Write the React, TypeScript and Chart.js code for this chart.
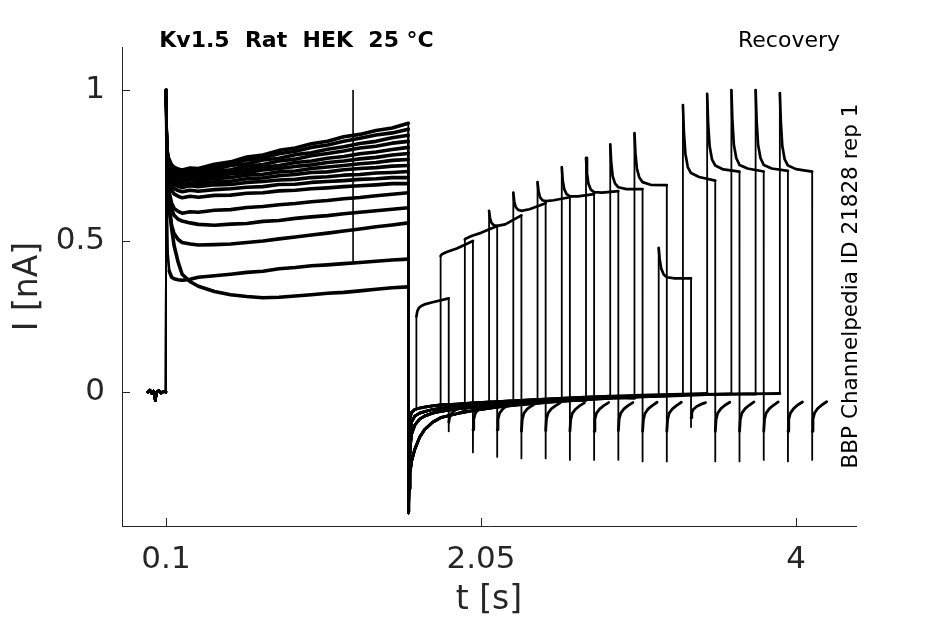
import React, { useEffect, useRef } from "react";
import { Chart, registerables } from "chart.js";

Chart.register(...registerables);

// ---------- axis ticks ----------
const X_TICKS = [0.1, 2.05, 4];
const X_TICK_LABELS = ["0.1", "2.05", "4"];
const Y_TICKS = [0, 0.5, 1];
const Y_TICK_LABELS = ["0", "0.5", "1"];
const X_MIN = -0.1724;
const X_MAX = 4.3714;
const Y_MIN = -0.4437;
const Y_MAX = 1.1424;

// ---------- pre-pulse holding (s, nA) ----------
const PRE_T = [-0.012, 0.0, 0.012, 0.022, 0.03, 0.034, 0.04, 0.055, 0.07, 0.085, 0.099];
const PRE_I = [0.0, 0.006, -0.004, 0.003, -0.01, -0.028, -0.002, 0.004, -0.003, 0.002, 0.0];

// ---------- first (conditioning) pulse ----------
const P1_T = [0.1, 0.104, 0.11, 0.12, 0.135, 0.15, 0.175, 0.2, 0.25, 0.3, 0.4, 0.5, 0.6, 0.7, 0.8, 0.9, 1.0, 1.1, 1.2, 1.3, 1.4, 1.5, 1.6];
const P1_I_00 = [1.0, 0.88, 0.8, 0.77, 0.752, 0.745, 0.738, 0.735, 0.742, 0.74, 0.754, 0.762, 0.778, 0.785, 0.8, 0.808, 0.822, 0.83, 0.845, 0.853, 0.866, 0.874, 0.89];
const P1_I_01 = [1.0, 0.875, 0.795, 0.765, 0.748, 0.74, 0.733, 0.73, 0.737, 0.735, 0.746, 0.757, 0.768, 0.776, 0.789, 0.797, 0.81, 0.818, 0.83, 0.84, 0.851, 0.858, 0.87];
const P1_I_02 = [0.99, 0.87, 0.79, 0.76, 0.742, 0.735, 0.728, 0.725, 0.732, 0.73, 0.738, 0.75, 0.756, 0.768, 0.774, 0.786, 0.792, 0.804, 0.812, 0.823, 0.83, 0.842, 0.85];
const P1_I_03 = [1.0, 0.87, 0.785, 0.752, 0.732, 0.725, 0.718, 0.715, 0.722, 0.72, 0.73, 0.736, 0.748, 0.753, 0.765, 0.771, 0.782, 0.79, 0.798, 0.808, 0.814, 0.824, 0.83];
const P1_I_04 = [0.99, 0.865, 0.78, 0.748, 0.728, 0.72, 0.713, 0.71, 0.716, 0.715, 0.722, 0.73, 0.737, 0.745, 0.75, 0.76, 0.765, 0.774, 0.78, 0.789, 0.795, 0.803, 0.81];
const P1_I_05 = [1.0, 0.86, 0.775, 0.743, 0.722, 0.715, 0.708, 0.705, 0.712, 0.71, 0.714, 0.722, 0.727, 0.735, 0.74, 0.747, 0.752, 0.76, 0.765, 0.772, 0.777, 0.785, 0.79];
const P1_I_06 = [0.98, 0.855, 0.77, 0.735, 0.715, 0.706, 0.7, 0.697, 0.703, 0.7, 0.707, 0.71, 0.718, 0.721, 0.729, 0.732, 0.74, 0.745, 0.75, 0.756, 0.76, 0.767, 0.77];
const P1_I_07 = [1.0, 0.85, 0.765, 0.728, 0.706, 0.697, 0.69, 0.686, 0.692, 0.69, 0.696, 0.698, 0.706, 0.709, 0.716, 0.72, 0.727, 0.729, 0.736, 0.74, 0.743, 0.748, 0.75];
const P1_I_08 = [0.99, 0.845, 0.76, 0.72, 0.698, 0.688, 0.681, 0.677, 0.683, 0.68, 0.686, 0.687, 0.694, 0.697, 0.702, 0.704, 0.71, 0.713, 0.718, 0.72, 0.725, 0.727, 0.73];
const P1_I_09 = [1.0, 0.84, 0.75, 0.71, 0.685, 0.674, 0.667, 0.663, 0.668, 0.665, 0.67, 0.673, 0.678, 0.68, 0.687, 0.688, 0.694, 0.697, 0.7, 0.704, 0.706, 0.71, 0.71];
const P1_I_10 = [1.0, 0.86, 0.74, 0.63, 0.54, 0.485, 0.43, 0.39, 0.365, 0.35, 0.333, 0.322, 0.316, 0.312, 0.314, 0.318, 0.322, 0.327, 0.33, 0.335, 0.34, 0.345, 0.348];
const P1_I_11 = [0.99, 0.83, 0.74, 0.695, 0.668, 0.656, 0.648, 0.643, 0.648, 0.645, 0.651, 0.652, 0.658, 0.66, 0.666, 0.668, 0.673, 0.676, 0.68, 0.683, 0.686, 0.69, 0.69];
const P1_I_12 = [1.0, 0.81, 0.71, 0.66, 0.625, 0.608, 0.598, 0.592, 0.597, 0.595, 0.602, 0.604, 0.611, 0.614, 0.62, 0.624, 0.63, 0.634, 0.64, 0.644, 0.65, 0.655, 0.66];
const P1_I_13 = [0.99, 0.8, 0.7, 0.645, 0.605, 0.585, 0.572, 0.566, 0.56, 0.555, 0.552, 0.556, 0.558, 0.565, 0.568, 0.575, 0.58, 0.584, 0.59, 0.595, 0.6, 0.605, 0.61];
const P1_I_14 = [1.0, 0.78, 0.67, 0.6, 0.55, 0.525, 0.505, 0.495, 0.49, 0.487, 0.488, 0.49, 0.495, 0.5, 0.507, 0.513, 0.52, 0.526, 0.533, 0.54, 0.547, 0.553, 0.56];
const P1_I_15 = [1.0, 0.66, 0.46, 0.4, 0.38, 0.375, 0.372, 0.37, 0.373, 0.38, 0.385, 0.39, 0.396, 0.4, 0.408, 0.412, 0.418, 0.421, 0.425, 0.429, 0.433, 0.437, 0.44];
const P1_I = [P1_I_00, P1_I_01, P1_I_02, P1_I_03, P1_I_04, P1_I_05, P1_I_06, P1_I_07, P1_I_08, P1_I_09, P1_I_10, P1_I_11, P1_I_12, P1_I_13, P1_I_14, P1_I_15];

// artefact spike in one trace
const SPIKE_T = [1.258, 1.258];
const SPIKE_I = [0.426, 1.0];

// ---------- recovery holding between pulses ----------
const HOLD_T = [1.6, 1.602, 1.605, 1.61, 1.62, 1.64, 1.67, 1.7, 1.75, 1.8, 1.9, 2.0, 2.15, 2.3, 2.5, 2.7, 2.9, 3.1, 3.3, 3.5, 3.7, 3.9];
const HOLD_FAST = [-0.4, -0.2, -0.12, -0.085, -0.068, -0.058, -0.053, -0.05, -0.046, -0.043, -0.04, -0.036, -0.032, -0.028, -0.022, -0.017, -0.013, -0.01, -0.007, -0.005, -0.003, -0.002];
const HOLD_MID = [-0.4, -0.3, -0.2, -0.14, -0.1, -0.08, -0.07, -0.065, -0.058, -0.054, -0.048, -0.044, -0.038, -0.033, -0.027, -0.021, -0.016, -0.012, -0.009, -0.007, -0.005, -0.004];
const HOLD_MID2 = [-0.4, -0.34, -0.26, -0.19, -0.14, -0.11, -0.09, -0.08, -0.07, -0.064, -0.056, -0.051, -0.044, -0.038, -0.03, -0.023, -0.018, -0.014, -0.01, -0.008, -0.006, -0.004];
const HOLD_SLOW = [-0.4, -0.37, -0.32, -0.27, -0.23, -0.19, -0.15, -0.125, -0.1, -0.085, -0.072, -0.062, -0.05, -0.042, -0.033, -0.025, -0.019, -0.015, -0.011, -0.008, -0.006, -0.005];
const HOLD_VARIANTS = [HOLD_FAST, HOLD_MID, HOLD_MID2, HOLD_SLOW];
const HOLD_ASSIGN = [0, 1, 3, 2, 3, 0, 1, 2, 0, 3, 1, 2, 0, 1, 3, 2];

// ---------- second (test) pulse ----------
const P2_START = [1.65, 1.8, 1.95, 2.1, 2.25, 2.4, 2.55, 2.7, 2.85, 3.0, 3.15, 3.3, 3.45, 3.6, 3.75, 3.9];
const P2_DT = [0, 0, 0.006, 0.015, 0.03, 0.05, 0.1, 0.2, 0.2, 0.2005, 0.205, 0.215, 0.235, 0.26, 0.29];
const P2_I_00 = [-0.057, 0.25, 0.268, 0.278, 0.285, 0.29, 0.297, 0.31, -0.13, -0.1, -0.085, -0.072, -0.062, -0.055, -0.05];
const P2_I_01 = [-0.054, 0.45, 0.455, 0.458, 0.462, 0.466, 0.475, 0.5, -0.2, -0.125, -0.09, -0.07, -0.057, -0.047, -0.038];
const P2_I_02 = [-0.062, 0.505, 0.508, 0.51, 0.514, 0.518, 0.527, 0.55, -0.215, -0.125, -0.09, -0.07, -0.056, -0.046, -0.037];
const P2_I_03 = [-0.047, 0.6, 0.575, 0.56, 0.552, 0.55, 0.555, 0.585, -0.22, -0.13, -0.092, -0.071, -0.057, -0.047, -0.037];
const P2_I_04 = [-0.043, 0.66, 0.63, 0.612, 0.603, 0.6, 0.605, 0.625, -0.22, -0.128, -0.09, -0.07, -0.056, -0.046, -0.036];
const P2_I_05 = [-0.025, 0.695, 0.665, 0.645, 0.635, 0.632, 0.635, 0.645, -0.225, -0.13, -0.092, -0.071, -0.057, -0.046, -0.036];
const P2_I_06 = [-0.028, 0.745, 0.7, 0.672, 0.655, 0.648, 0.648, 0.655, -0.225, -0.13, -0.09, -0.07, -0.056, -0.045, -0.035];
const P2_I_07 = [-0.028, 0.775, 0.725, 0.69, 0.67, 0.662, 0.66, 0.665, -0.225, -0.128, -0.09, -0.07, -0.056, -0.045, -0.035];
const P2_I_08 = [-0.014, 0.82, 0.76, 0.715, 0.69, 0.678, 0.672, 0.672, -0.23, -0.13, -0.092, -0.071, -0.056, -0.045, -0.034];
const P2_I_09 = [-0.021, 0.857, 0.79, 0.74, 0.71, 0.695, 0.686, 0.685, -0.23, -0.13, -0.092, -0.07, -0.056, -0.045, -0.034];
const P2_I_10 = [-0.011, 0.477, 0.44, 0.41, 0.39, 0.38, 0.376, 0.376, -0.116, -0.085, -0.068, -0.057, -0.048, -0.041, -0.035];
const P2_I_11 = [-0.012, 0.95, 0.86, 0.79, 0.745, 0.725, 0.712, 0.7, -0.23, -0.13, -0.092, -0.07, -0.055, -0.044, -0.034];
const P2_I_12 = [-0.005, 0.987, 0.89, 0.815, 0.77, 0.75, 0.737, 0.73, -0.23, -0.13, -0.092, -0.07, -0.055, -0.044, -0.033];
const P2_I_13 = [-0.006, 1.0, 0.9, 0.82, 0.775, 0.752, 0.74, 0.73, -0.225, -0.13, -0.091, -0.07, -0.055, -0.044, -0.033];
const P2_I_14 = [-0.007, 1.0, 0.9, 0.82, 0.775, 0.752, 0.74, 0.732, -0.23, -0.13, -0.091, -0.07, -0.055, -0.043, -0.033];
const P2_I_15 = [-0.005, 0.99, 0.895, 0.815, 0.77, 0.75, 0.738, 0.73, -0.225, -0.13, -0.09, -0.069, -0.054, -0.043, -0.032];
const P2_I = [P2_I_00, P2_I_01, P2_I_02, P2_I_03, P2_I_04, P2_I_05, P2_I_06, P2_I_07, P2_I_08, P2_I_09, P2_I_10, P2_I_11, P2_I_12, P2_I_13, P2_I_14, P2_I_15];

// ---------- texts ----------
const TITLE = "Kv1.5  Rat  HEK  25 °C";
const PROTOCOL = "Recovery";
const SIDE_NOTE = "BBP Channelpedia ID 21828 rep 1";
const X_TITLE = "t [s]";
const Y_TITLE = "I [nA]";

const FONT = "'DejaVu Sans', 'Noto Sans', sans-serif";
const AXIS_COLOR = "#262626";

type Pt = { x: number; y: number };

function buildTrace(k: number): Pt[] {
  const pts: Pt[] = [];
  PRE_T.forEach((t, i) => pts.push({ x: t, y: PRE_I[i] }));
  P1_T.forEach((t, i) => pts.push({ x: t, y: P1_I[k][i] }));
  const hold = HOLD_VARIANTS[HOLD_ASSIGN[k]];
  HOLD_T.forEach((t, i) => {
    if (t < P2_START[k]) pts.push({ x: t, y: hold[i] });
  });
  P2_DT.forEach((dt, i) => pts.push({ x: P2_START[k] + dt, y: P2_I[k][i] }));
  return pts;
}

function segWidth(pts: Pt[]) {
  return (c: any) => {
    const a = pts[c.p0DataIndex];
    const b = pts[c.p1DataIndex];
    if (!a || !b) return 2;
    if (Math.abs(b.x - a.x) < 0.0015) return 1.8;
    if (a.x >= 0.12 && b.x <= 1.6) return 3.6;
    if (a.x >= 1.6 && b.y < 0.1 && a.y < 0.1) return 2.8;
    return 2.7;
  };
}

const decorPlugin = {
  id: "decor",
  afterDraw(chart: any) {
    const { ctx, chartArea } = chart;
    const ax = chart.scales.x;
    const ay = chart.scales.y;
    ctx.save();
    ctx.strokeStyle = AXIS_COLOR;
    ctx.lineWidth = 1;
    ctx.beginPath();
    X_TICKS.forEach((v) => {
      const px = Math.round(ax.getPixelForValue(v)) + 0.5;
      ctx.moveTo(px, chartArea.bottom);
      ctx.lineTo(px, chartArea.bottom - 8);
    });
    Y_TICKS.forEach((v) => {
      const py = Math.round(ay.getPixelForValue(v)) + 0.5;
      ctx.moveTo(chartArea.left, py);
      ctx.lineTo(chartArea.left + 8, py);
    });
    ctx.stroke();

    ctx.fillStyle = "#000";
    ctx.textBaseline = "alphabetic";
    ctx.font = `bold 22px ${FONT}`;
    ctx.textAlign = "center";
    ctx.fillText(TITLE, 296.5, 47);
    ctx.font = `22px ${FONT}`;
    ctx.textAlign = "right";
    ctx.fillText(PROTOCOL, 840, 47);
    ctx.save();
    ctx.translate(857, 286);
    ctx.rotate(-Math.PI / 2);
    ctx.font = `21.5px ${FONT}`;
    ctx.textAlign = "center";
    ctx.fillText(SIDE_NOTE, 0, 0);
    ctx.restore();
    ctx.restore();
  },
};

export default function App() {
  const ref = useRef<HTMLCanvasElement | null>(null);

  useEffect(() => {
    if (!ref.current) return;
    const datasets: any[] = [];
    for (let k = 0; k < P2_START.length; k++) {
      const pts = buildTrace(k);
      datasets.push({
        data: pts,
        borderColor: "#000",
        borderWidth: 2,
        pointRadius: 0,
        tension: 0,
        fill: false,
        borderJoinStyle: "round",
        borderCapStyle: "round",
        segment: { borderWidth: segWidth(pts) },
      });
    }
    datasets.push({
      data: SPIKE_T.map((t, i) => ({ x: t, y: SPIKE_I[i] })),
      borderColor: "#000",
      borderWidth: 1.6,
      pointRadius: 0,
      fill: false,
    });

    const chart = new Chart(ref.current, {
      type: "line",
      data: { datasets },
      options: {
        animation: false,
        responsive: false,
        parsing: false,
        events: [],
        layout: { padding: { left: 0, top: 47, right: 89, bottom: 0 } },
        plugins: { legend: { display: false }, tooltip: { enabled: false }, title: { display: false } },
        scales: {
          x: {
            type: "linear",
            min: X_MIN,
            max: X_MAX,
            grid: { display: false, drawTicks: false },
            border: { display: true, color: AXIS_COLOR, width: 1 },
            afterBuildTicks: (s: any) => {
              s.ticks = X_TICKS.map((v) => ({ value: v }));
            },
            afterFit: (s: any) => {
              s.height = 98;
            },
            ticks: {
              autoSkip: false,
              maxRotation: 0,
              padding: 15,
              color: AXIS_COLOR,
              font: { family: FONT, size: 31 },
              callback: (v: any) => {
                const i = X_TICKS.indexOf(Number(v));
                return i >= 0 ? X_TICK_LABELS[i] : "";
              },
            },
            title: {
              display: true,
              text: X_TITLE,
              color: AXIS_COLOR,
              font: { family: FONT, size: 33 },
              padding: { top: 0, bottom: 4 },
            },
          },
          y: {
            type: "linear",
            min: Y_MIN,
            max: Y_MAX,
            grid: { display: false, drawTicks: false },
            border: { display: true, color: AXIS_COLOR, width: 1 },
            afterBuildTicks: (s: any) => {
              s.ticks = Y_TICKS.map((v) => ({ value: v }));
            },
            afterFit: (s: any) => {
              s.width = 122;
            },
            ticks: {
              autoSkip: false,
              padding: 17,
              color: AXIS_COLOR,
              font: { family: FONT, size: 31 },
              callback: (v: any) => {
                const i = Y_TICKS.indexOf(Number(v));
                return i >= 0 ? Y_TICK_LABELS[i] : "";
              },
            },
            title: {
              display: true,
              text: Y_TITLE,
              color: AXIS_COLOR,
              font: { family: FONT, size: 33 },
              padding: { top: 9, bottom: 0 },
            },
          },
        },
      },
      plugins: [decorPlugin],
    });
    return () => chart.destroy();
  }, []);

  return (
    <div style={{ position: "absolute", left: 0, top: 0, width: 945, height: 624, background: "#fff" }}>
      <canvas ref={ref} width={945} height={624} style={{ width: 945, height: 624 }} />
    </div>
  );
}
